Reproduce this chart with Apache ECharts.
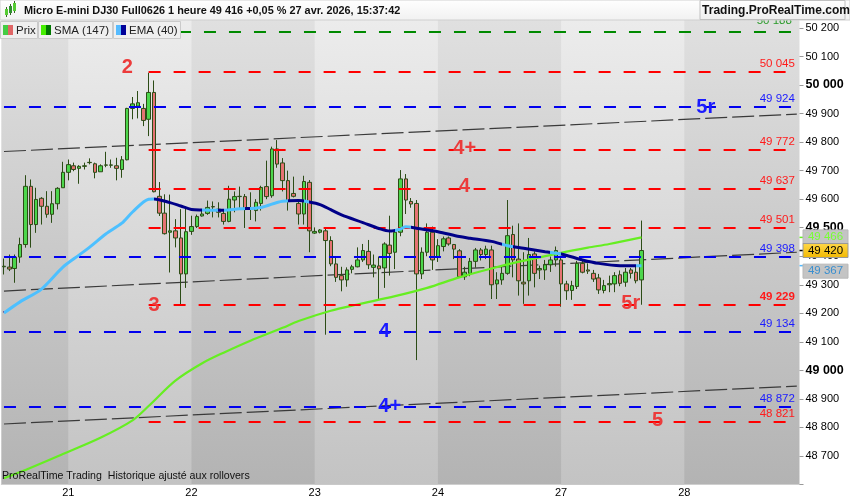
<!DOCTYPE html>
<html><head><meta charset="utf-8">
<script src="https://cdn.jsdelivr.net/npm/echarts@6/dist/echarts.min.js"></script>
<style>html,body{margin:0;padding:0;background:#fff}#c{width:850px;height:500px}</style>
</head><body><div id="c"></div>
<script>
// ---- data ----
const dayLabels = ['21','22','23','24','27','28'];
const daySlots = [12,35,58,81,104,127];
const slotCount = 149;
const opens  = [49363,49362,49357,49397,49441,49645,49511,49603,49575,49547,49584,49640,49694,49717,49708,49715,49728,49724,49696,49719,49719,49717,49704,49738,49918,49926,49918,49880,49974,49610,49551,49484,49489,49464,49338,49487,49504,49541,49550,49574,49565,49550,49522,49597,49609,49609,49565,49560,49585,49644,49612,49776,49727,49665,49620,49585,49548,49659,49481,49484,49489,49455,49373,49332,49317,49354,49363,49387,49417,49361,49366,49359,49439,49414,49484,49671,49592,49585,49338,49414,49484,49396,49434,49464,49441,49419,49328,49340,49382,49422,49406,49422,49303,49317,49340,49476,49390,49309,49314,49408,49352,49352,49370,49387,49387,49303,49280,49294,49375,49352,49340,49324,49280,49300,49303,49335,49309,49352,49344,49317];
const closes = [49365,49355,49397,49441,49645,49511,49599,49575,49547,49584,49638,49694,49721,49704,49715,49717,49729,49694,49717,49720,49720,49708,49738,49918,49934,49938,49876,49974,49626,49551,49479,49489,49464,49338,49486,49504,49539,49548,49571,49573,49554,49522,49600,49609,49610,49565,49570,49589,49641,49609,49776,49723,49665,49595,49610,49548,49662,49489,49487,49492,49455,49373,49326,49317,49352,49363,49387,49420,49370,49369,49356,49443,49410,49484,49671,49597,49583,49338,49414,49484,49387,49437,49461,49443,49425,49328,49344,49382,49422,49406,49425,49300,49317,49340,49472,49387,49314,49303,49406,49340,49357,49370,49387,49420,49303,49279,49297,49375,49344,49348,49320,49282,49297,49304,49332,49305,49344,49340,49314,49420];
const lows   = [49336,49348,49307,49377,49430,49430,49482,49511,49535,49517,49564,49640,49666,49698,49654,49704,49722,49673,49696,49712,49710,49666,49675,49736,49880,49883,49856,49821,49624,49541,49476,49343,49431,49230,49289,49475,49499,49539,49545,49536,49536,49511,49519,49554,49565,49499,49527,49522,49560,49600,49605,49710,49627,49560,49606,49511,49511,49414,49478,49480,49125,49365,49310,49277,49293,49340,49361,49380,49355,49326,49250,49289,49332,49355,49470,49548,49570,49036,49320,49400,49352,49380,49417,49437,49390,49326,49317,49330,49360,49385,49390,49250,49250,49300,49335,49326,49262,49233,49262,49291,49320,49317,49345,49364,49223,49247,49247,49285,49340,49338,49310,49268,49270,49274,49274,49295,49293,49322,49305,49230];
const highs  = [49392,49406,49406,49465,49684,49669,49640,49607,49628,49628,49642,49731,49739,49728,49719,49728,49743,49728,49722,49766,49739,49745,49751,49920,49958,49979,49934,50043,50016,49660,49617,49616,49530,49565,49574,49542,49546,49565,49595,49592,49589,49565,49647,49627,49644,49618,49624,49600,49647,49735,49784,49807,49744,49700,49679,49600,49682,49667,49501,49495,49501,49470,49396,49363,49361,49370,49431,49443,49457,49406,49399,49449,49542,49490,49702,49688,49604,49597,49431,49515,49504,49460,49469,49469,49443,49425,49363,49394,49429,49429,49437,49437,49344,49364,49597,49507,49515,49414,49464,49417,49367,49387,49399,49434,49402,49314,49314,49384,49384,49375,49352,49338,49317,49332,49344,49350,49359,49359,49364,49525];

const smaIdx = [0,5,11,18,24,27,32,37,41,46,52,55,61,66,73,79,85,91,96,104,109,113,119];
const smaVal = [48622,48659,48707,48764,48825,48875,48964,49025,49062,49104,49149,49173,49209,49231,49260,49289,49326,49357,49380,49412,49430,49443,49466];
const emaIdx = [0,3,7,11,14,16,19,22,24,27,28,31,33,35,37,40,44,48,52,55,57,59,61,63,67,70,72,74,75,77,81,85,87,91,94,97,101,104,108,111,115,119];
const emaVal = [49201,49240,49285,49362,49404,49432,49478,49516,49555,49600,49601,49588,49576,49564,49562,49561,49566,49571,49593,49595,49590,49581,49563,49545,49518,49497,49488,49495,49503,49498,49486,49469,49463,49452,49437,49428,49416,49408,49387,49375,49367,49367];
const emaAboveStart = [0,37,41,46,56,73,93,102,118];
const emaAboveEnd   = [27,39,44,52,56,75,94,103,119];

const trendSlots  = [0,148];
const trendUpper  = [49767,49898];
const trendMiddle = [49278,49414];
const trendLower  = [48812,48945];

const levelValues = [50188,50045,49924,49772,49637,49501,49398,49229,49134,48872,48821];
const levelKinds  = ['g','r','b','r','r','r','b','r','b','b','r'];

const annText = ['2','3','4+','4','5r','5r','4','4+','5'];
const annIdx  = [23,28,86,86,131,117,71,72,122];
const annVal  = [50063,49229,49779,49643,49920,49236,49138,48875,48823];
const annKind = ['r','r','r','r','b','r','b','b','r'];

const yMin = 48600, yMax = 50230, yStep = 100;

// ---- helpers / styles ----
const FONT = "'Liberation Sans', Arial, sans-serif";
const fmt = v => { const s = String(Math.round(v)); return s.slice(0, s.length-3) + ' ' + s.slice(-3); };
const levelColor = {r:'#ff0000', b:'#0000ee', g:'#008a00'};
const labelColor = {r:'#ff1a1a', b:'#1a1aff', g:'#2a9a2a'};
const annColor = {r:'#ec3b3b', b:'#1a1aff'};
const categories = Array.from({length: slotCount}, (_, i) => 's' + i);

const candleData = opens.map((o, i) => [o, closes[i], lows[i], highs[i]]);
const pairs = (idx, val) => idx.map((x, k) => [x, val[k]]);

const levelStart = levelKinds.map(k => k === 'r' ? 27 : 0);
const markLines = levelValues.map((v, k) => [
  { coord: [levelStart[k], v],
    lineStyle: { color: levelColor[levelKinds[k]], width: 2, type: [12, 13] },
    label: { show: true, position: 'insideEndTop', distance: levelKinds[k] === 'g' ? 5 : 2, formatter: fmt(v),
             color: labelColor[levelKinds[k]], fontSize: 11.5, fontFamily: FONT,
             fontWeight: v === 49229 ? 'bold' : 'normal' } },
  { coord: [148, v] }
]);

const markPoints = annText.map((t, k) => ({
  coord: [annIdx[k], annVal[k]], symbolSize: 0,
  label: { show: true, position: 'inside', formatter: t, color: annColor[annKind[k]],
           fontSize: 20, fontWeight: 'bold', fontFamily: FONT }
}));

const lightBands = [[12,35],[58,81],[104,127]].map(([a,b]) => [
  { xAxis: a, itemStyle: { color: { type:'linear', x:0, y:0, x2:0, y2:1,
      colorStops:[{offset:0,color:'#ececec'},{offset:1,color:'#c3c3c3'}] } } },
  { xAxis: b }
]);

const chart = echarts.init(document.getElementById('c'), null, {renderer:'canvas'});
const option = {
  animation: false,
  backgroundColor: '#ffffff',
  grid: { left: 1.3, right: 50.5, top: 19.4, bottom: 15.5, show: true, borderWidth: 0,
          backgroundColor: { type:'linear', x:0, y:0, x2:0, y2:1,
            colorStops:[{offset:0,color:'#e0e0e0'},{offset:1,color:'#b3b3b3'}] } },
  xAxis: {
    type: 'category', data: categories, boundaryGap: true,
    axisLine: { show: true, lineStyle: { color: '#cfcfcf' } },
    axisTick: { show: false },
    splitLine: { show: false },
    axisLabel: { interval: i => daySlots.includes(i), margin: 3, color: '#000', fontSize: 11, fontFamily: FONT,
                 formatter: (v, i) => { const k = daySlots.indexOf(i); return k >= 0 ? dayLabels[k] : ''; } }
  },
  yAxis: {
    type: 'value', position: 'right', min: yMin, max: yMax, interval: yStep, scale: true,
    splitLine: { show: false },
    axisLine: { show: false },
    axisTick: { show: true, length: 4, lineStyle: { color: '#999' } },
    axisLabel: { margin: 6, color: '#000', fontSize: 11, fontFamily: FONT,
      formatter: v => (v < 48700 || v > 50200) ? '' : (v % 500 === 0 ? '{b|' + fmt(v) + '}' : fmt(v)),
      rich: { b: { fontSize: 12.5, fontWeight: 'bold', color: '#000', fontFamily: FONT } } }
  },
  visualMap: [{
    show: false, type: 'piecewise', seriesIndex: 6, dimension: 0,
    pieces: emaAboveStart.map((a, k) => ({ gte: a - 0.5, lt: emaAboveEnd[k] + 0.5, color: '#4dc0ff' })),
    outOfRange: { color: '#000088' }
  }],
  series: [
    { name: 'bands', type: 'line', data: [], z: 1, silent: true,
      markArea: { silent: true, data: lightBands } },
    { name: 'tU', type: 'line', z: 2, data: pairs(trendSlots, trendUpper), symbol: 'none', silent: true,
      lineStyle: { color: '#3a3a3a', width: 1.2, type: [22, 5] } },
    { name: 'tM', type: 'line', z: 2, data: pairs(trendSlots, trendMiddle), symbol: 'none', silent: true,
      lineStyle: { color: '#3a3a3a', width: 1.2, type: [22, 5] } },
    { name: 'tL', type: 'line', z: 2, data: pairs(trendSlots, trendLower), symbol: 'none', silent: true,
      lineStyle: { color: '#3a3a3a', width: 1.2, type: [22, 5] } },
    { name: 'Prix', type: 'candlestick', z: 3, data: candleData, barWidth: 4,
      itemStyle: { color: '#4cd64c', color0: '#e57373', borderColor: '#2c4c16', borderColor0: '#2c4c16', borderWidth: 1 },
      markLine: { symbol: 'none', silent: true, data: markLines },
      markPoint: { silent: true, data: markPoints } },
    { name: 'SMA (147)', type: 'line', z: 4, data: pairs(smaIdx, smaVal), symbol: 'none', smooth: 0.3,
      lineStyle: { color: '#66ee22', width: 2.2 } },
    { name: 'EMA (40)', type: 'line', z: 5, data: pairs(emaIdx, emaVal), symbol: 'none', smooth: 0.3,
      lineStyle: { width: 3 } }
  ]
};
chart.setOption(option);

// ---- overlay graphics (header, legend, axis price tags) ----
const lastClose = closes[closes.length-1];
const lastSma = smaVal[smaVal.length-1];
const lastEma = emaVal[emaVal.length-1];
const yPix = v => chart.convertToPixel({yAxisIndex: 0}, v);
const axX = 799.5;
function tag(v, yc, fill, txtColor, stroke, tickColor, tickY) {
  return [
    { type:'line', z:100, shape:{x1:axX, y1:tickY, x2:axX+5, y2:tickY}, style:{stroke:tickColor, lineWidth:1.5} },
    { type:'rect', z:100, shape:{x:803, y:yc-7, width:45, height:14}, style:{fill:fill, stroke:stroke, lineWidth:1} },
    { type:'text', z:101, style:{ text: fmt(v), x: 825.5, y: yc, align:'center', verticalAlign:'middle',
      fill: txtColor, fontSize: 11.5, fontFamily: FONT } }
  ];
}
const g = [];
// header bar
g.push({ type:'rect', z:100, shape:{x:0,y:0,width:850,height:20},
  style:{ fill:{type:'linear',x:0,y:0,x2:0,y2:1,colorStops:[{offset:0,color:'#ffffff'},{offset:1,color:'#f1f1f1'}]}, stroke:'#d0d0d0', lineWidth:1 } });
// icon
[[5,9,3,6,'#55cc33'],[9,6,3,7,'#2f8f2f'],[13,3,3,8,'#55cc33']].forEach(([x,y,w,h,c]) => {
  g.push({ type:'line', z:101, shape:{x1:x+1.5,y1:y-2,x2:x+1.5,y2:y+h+2}, style:{stroke:'#336622', lineWidth:1} });
  g.push({ type:'rect', z:102, shape:{x:x,y:y,width:w,height:h}, style:{fill:c} });
});
g.push({ type:'text', z:101, style:{ text:'Micro E-mini DJ30 Full0626 1 heure 49 416 +0,05 % 27 avr. 2026, 15:37:42',
  x:24, y:10.5, verticalAlign:'middle', fill:'#111', fontSize:10.9, fontWeight:'bold', fontFamily:FONT } });
g.push({ type:'rect', z:101, shape:{x:700,y:0.5,width:145,height:19},
  style:{ fill:{type:'linear',x:0,y:0,x2:0,y2:1,colorStops:[{offset:0,color:'#ffffff'},{offset:1,color:'#eeeeee'}]}, stroke:'#c0c0c0', lineWidth:1 } });
g.push({ type:'text', z:102, style:{ text:'Trading.ProRealTime.com', x:776, y:10.5, align:'center', verticalAlign:'middle',
  fill:'#111', fontSize:12, fontWeight:'bold', fontFamily:FONT } });
// legend row
const leg = [
  {x:0, w:37, txt:'Prix', c1:'#44cc44', c2:'#e06666'},
  {x:38, w:74, txt:'SMA (147)', c1:'#44ee00', c2:'#007700'},
  {x:113, w:67, txt:'EMA (40)', c1:'#55bbff', c2:'#000099'}
];
leg.forEach(l => {
  g.push({ type:'rect', z:100, shape:{x:l.x+0.5,y:21.5,width:l.w,height:17}, style:{fill:'#efefef', stroke:'#cacaca', lineWidth:1} });
  g.push({ type:'rect', z:101, shape:{x:l.x+3,y:25,width:5,height:10}, style:{fill:l.c1} });
  g.push({ type:'rect', z:101, shape:{x:l.x+8,y:25,width:5,height:10}, style:{fill:l.c2} });
  g.push({ type:'text', z:101, style:{ text:l.txt, x:l.x+16, y:30.5, verticalAlign:'middle', fill:'#222', fontSize:11.5, fontFamily:FONT } });
});
// footer note
g.push({ type:'text', z:101, style:{ text:'ProRealTime Trading  Historique ajusté aux rollovers',
  x:2, y:476, verticalAlign:'middle', fill:'#111', fontSize:10.6, fontFamily:FONT } });
// price tags
const ySma = yPix(lastSma), yClose = yPix(lastClose), yEma = yPix(lastEma);
g.push(...tag(lastSma, ySma - 0.5, '#c4c4c4', '#77ff33', '#b8b8b8', '#66ee22', ySma));
g.push(...tag(lastClose, yClose, {type:'linear',x:0,y:0,x2:0,y2:1,colorStops:[{offset:0,color:'#ffd84a'},{offset:1,color:'#f2b800'}]}, '#000', '#999', '#000', yClose));
g.push(...tag(lastEma, yEma + 5.5, '#c4c4c4', '#3a8fd0', '#b8b8b8', '#55bbff', yEma));
chart.setOption({ graphic: g });
</script>
</body></html>
